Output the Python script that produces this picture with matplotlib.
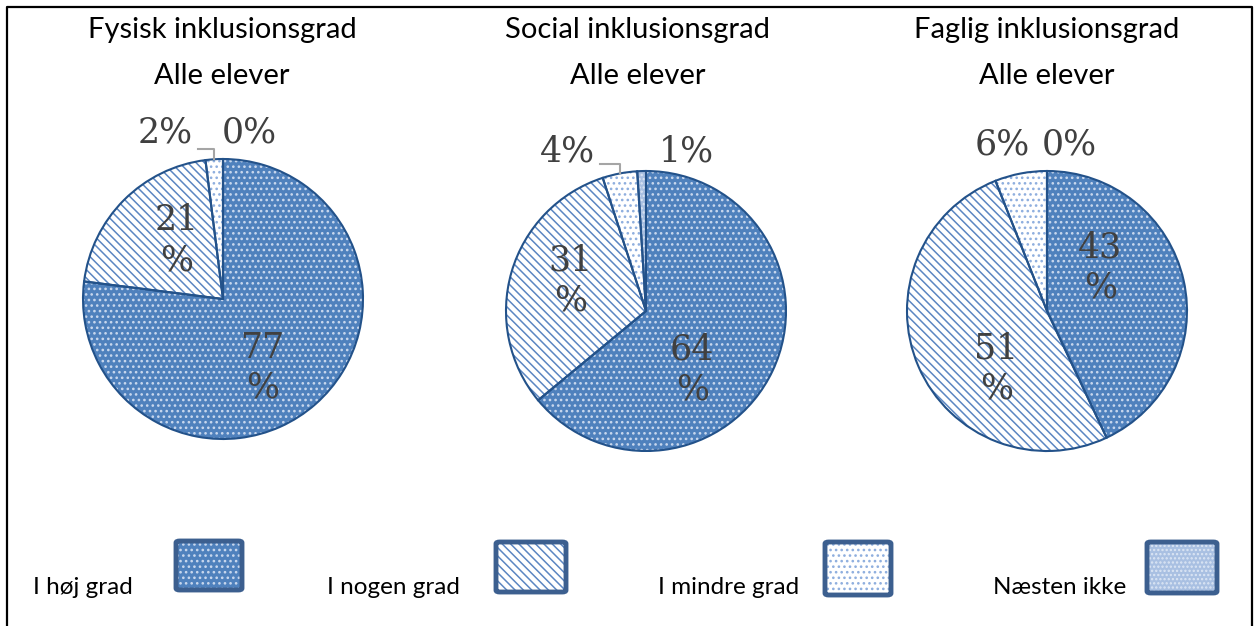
import numpy as np
import matplotlib
matplotlib.use("Agg")
import matplotlib.pyplot as plt
from matplotlib.patches import FancyBboxPatch
from matplotlib.lines import Line2D

# data
titles = ["Fysisk inklusionsgrad", "Social inklusionsgrad", "Faglig inklusionsgrad"]
subtitle = "Alle elever"
categories = ["I høj grad", "I nogen grad", "I mindre grad", "Næsten ikke"]
fysisk = [77, 21, 2, 0]
social = [64, 31, 4, 1]
faglig = [43, 51, 6, 0]
series = [fysisk, social, faglig]

# styles per category: face, hatch, hatch colour
faces = ["#4f81bd", "white", "white", "#a9c0e2"]
hatches = ["...", "\\\\\\\\", "...", "...."]
hatch_cols = ["#c9d8ee", "#5b86c2", "#8eaede", "#dce6f4"]
edge = "#23528a"
label_col = "#404040"

plt.rcParams['hatch.linewidth'] = 1.1

W, H = 1255, 626
fig = plt.figure(figsize=(W / 100, H / 100), dpi=100)

R = 140  # pie radius in px
half = 200
centres = [(223, 299), (646, 311), (1047, 311)]
title_x = [222, 638, 1047]

# label placement (radius units) - inside labels, and outside labels for the small slices
inside_pos = [[(0.28, -0.49), (-0.33, 0.42)],
              [(0.33, -0.42), (-0.54, 0.22)],
              [(0.38, 0.31), (-0.36, -0.41)]]
outside_pos = [[(-0.41, 1.19), (0.19, 1.19)],
               [(-0.56, 1.14), (0.29, 1.14)],
               [(-0.32, 1.19), (0.16, 1.19)]]
leader = [(-0.18, 1.07), (-0.33, 1.05), None]

for i, vals in enumerate(series):
    cx, cy = centres[i]
    ax = fig.add_axes([(cx - half) / W, (H - cy - half) / H, 2 * half / W, 2 * half / H])
    lim = half / R
    # hatch layer
    wedges, _ = ax.pie(vals, startangle=90, counterclock=False, radius=1,
                       colors=faces, wedgeprops=dict(linewidth=0))
    for w, hc, ht in zip(wedges, hatch_cols, hatches):
        w.set_hatch(ht)
        w.set_edgecolor(hc)
    # outline layer
    wedges2, _ = ax.pie(vals, startangle=90, counterclock=False, radius=1,
                        colors=["none"] * 4,
                        wedgeprops=dict(linewidth=1.5, edgecolor=edge))
    ax.set_xlim(-lim, lim)
    ax.set_ylim(-lim, lim)
    ax.set_aspect("equal")
    ax.axis("off")

    for k in range(2):
        px, py = inside_pos[i][k]
        ax.text(px, py, f"{vals[k]}\n%", ha="center", va="center",
                fontsize=25, family="DejaVu Serif", color=label_col, linespacing=1.22)
        ox, oy = outside_pos[i][k]
        ax.text(ox, oy, f"{vals[k + 2]}%", ha="center", va="center",
                fontsize=25, family="DejaVu Serif", color=label_col)

    if leader[i] is not None:
        w = wedges2[2]
        mid = np.deg2rad((w.theta1 + w.theta2) / 2)
        mx, my = np.cos(mid), np.sin(mid)
        lx, ly = leader[i]
        ax.plot([lx, mx, mx], [ly, ly, my], color="#a5a5a5", lw=1.5)

    fig.text(title_x[i] / W, 1 - 30 / H, titles[i], ha="center", va="center",
             fontsize=21, family="Lato", color="black")
    fig.text(title_x[i] / W, 1 - 76 / H, subtitle, ha="center", va="center",
             fontsize=21, family="Lato", color="black")

# legend
leg_text_x = [33, 327, 658, 993]
leg_boxes = [(176, 541, 66, 49), (496, 542, 70, 50), (825, 542, 66, 53), (1147, 542, 70, 51)]
for k, name in enumerate(categories):
    fig.text(leg_text_x[k] / W, 1 - 587 / H, name, ha="left", va="center",
             fontsize=17.5, family="Lato", color="black")
    x, y, w, h = leg_boxes[k]
    hp = FancyBboxPatch(((x) / W, 1 - (y + h) / H), w / W, h / H,
                        boxstyle="square,pad=0", transform=fig.transFigure,
                        facecolor=faces[k], edgecolor=hatch_cols[k], hatch=hatches[k], lw=0)
    fig.patches.append(hp)
    bp = FancyBboxPatch(((x) / W, 1 - (y + h) / H), w / W, h / H,
                        boxstyle="round,pad=0,rounding_size=0.003", transform=fig.transFigure,
                        facecolor="none", edgecolor="#3c5f8f", lw=3.5)
    fig.patches.append(bp)

# frame (left, top, right)
fig.lines.append(Line2D([7 / W, 7 / W, 1252 / W, 1252 / W], [0, 1 - 7 / H, 1 - 7 / H, 0],
                        transform=fig.transFigure, color="black", lw=1.6))

fig.savefig("out.png", dpi=100)
